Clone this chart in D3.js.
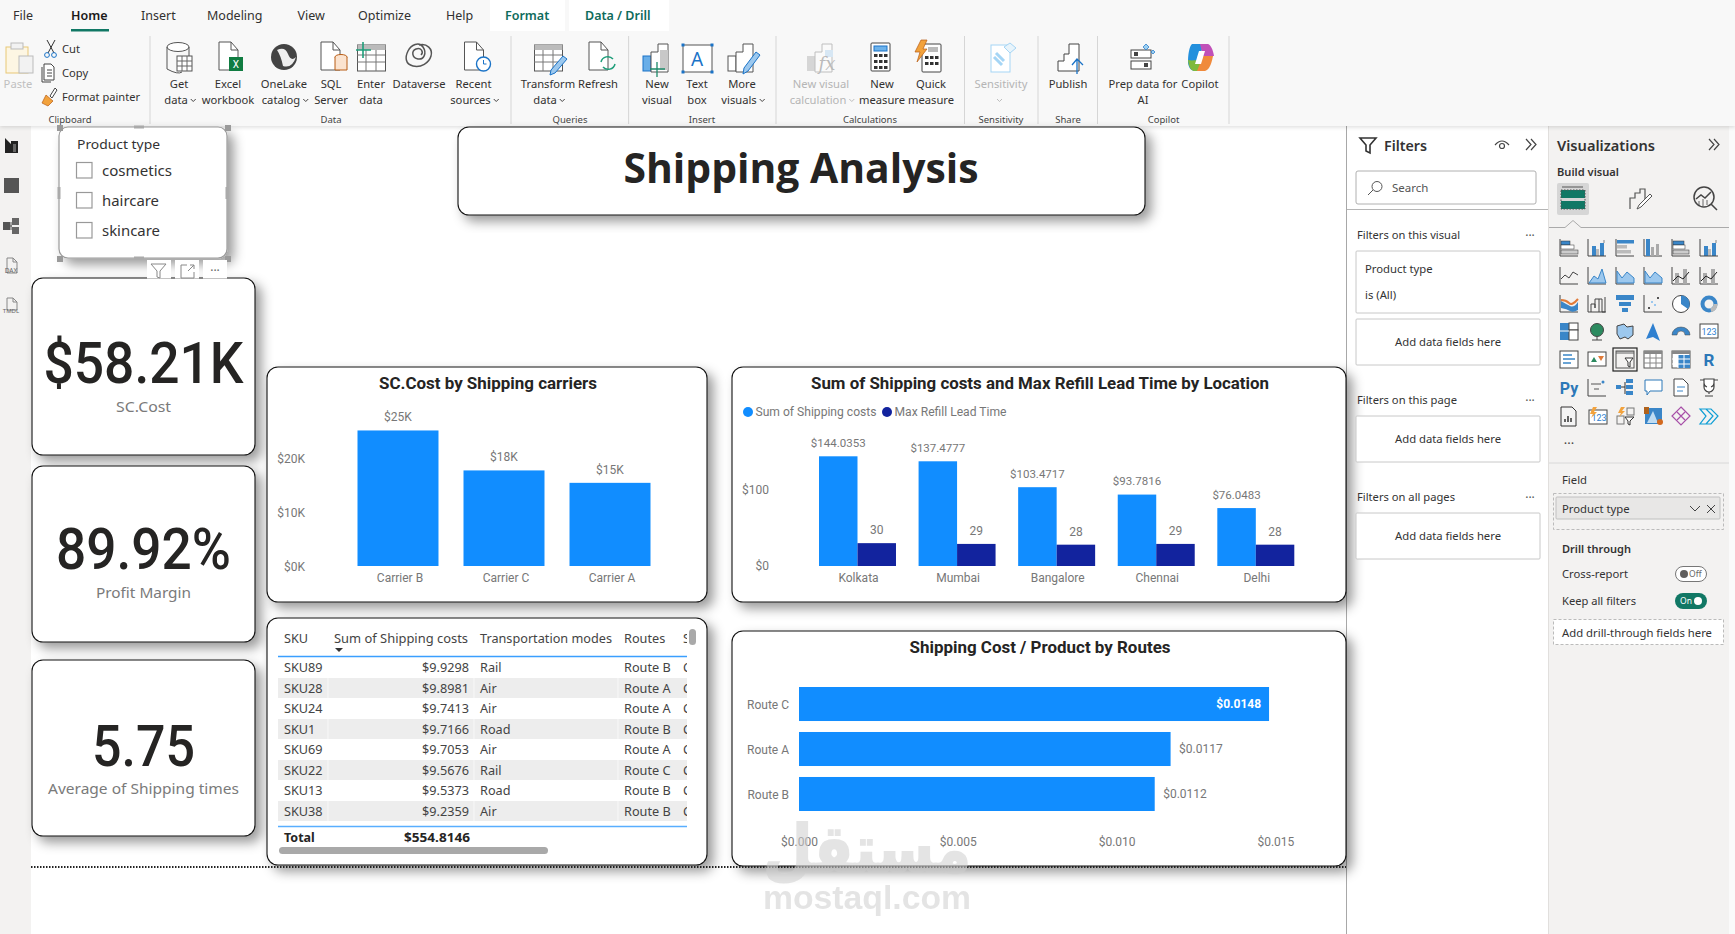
<!DOCTYPE html>
<html><head><meta charset="utf-8">
<script src="https://cdn.jsdelivr.net/npm/d3@7/dist/d3.min.js"></script>
<style>html,body{margin:0;padding:0;background:#fff;overflow:hidden}svg{display:block}</style>
</head><body><div id="c"></div>
<script>
// ---------- data ----------
const carriers = ["Carrier B","Carrier C","Carrier A"];
const carrierCosts = [25.1,17.7,15.4];
const carrierLabels = ["$25K","$18K","$15K"];
const carrierTicks = [0,10,20];
const locations = ["Kolkata","Mumbai","Bangalore","Chennai","Delhi"];
const locShipping = [144.0353,137.4777,103.4717,93.7816,76.0483];
const locLead = [30,29,28,29,28];
const locTicks = [0,100];
const routes = ["Route C","Route A","Route B"];
const routeCosts = [0.0148,0.0117,0.0112];
const routeTicks = [0,0.005,0.010,0.015];
const skus = ["SKU89","SKU28","SKU24","SKU1","SKU69","SKU22","SKU13","SKU38"];
const skuCosts = [9.9298,9.8981,9.7413,9.7166,9.7053,9.5676,9.5373,9.2359];
const skuModes = ["Rail","Air","Air","Road","Air","Rail","Road","Air"];
const skuRoutes = ["Route B","Route A","Route A","Route B","Route A","Route C","Route B","Route B"];
const tableHeaders = ["SKU","Sum of Shipping costs","Transportation modes","Routes","Shipping carriers"];
const tableTotal = 554.8146;
const kpiValues = ["$58.21K","89.92%","5.75"];
const kpiNames = ["SC.Cost","Profit Margin","Average of Shipping times"];
const productTypes = ["cosmetics","haircare","skincare"];
const tabs = ["File","Home","Insert","Modeling","View","Optimize","Help","Format","Data / Drill"];

const BLUE="#118DFF",NAVY="#12239E",INK="#252423",GREY="#777",GREEN="#117865";
const UI="'Noto Sans',sans-serif",DIN="Roboto,sans-serif";

const svg=d3.select("#c").append("svg").attr("width",1735).attr("height",934);
const defs=svg.append("defs");
const sh=defs.append("filter").attr("id","sh").attr("x","-15%").attr("y","-15%").attr("width","135%").attr("height","135%");
sh.append("feDropShadow").attr("dx",6).attr("dy",6).attr("stdDeviation",6).attr("flood-color","#000").attr("flood-opacity",.4);
const rs=defs.append("filter").attr("id","rs").attr("y","-10%").attr("height","130%");
rs.append("feDropShadow").attr("dx",0).attr("dy",1).attr("stdDeviation",2).attr("flood-color","#000").attr("flood-opacity",.15);
defs.append("clipPath").attr("id","tclip").append("rect").attr("x",278).attr("y",625).attr("width",409).attr("height",200);

function T(p,x,y,s,o={}){
  const t=p.append("text").attr("x",x).attr("y",y).attr("dy","0.35em").text(s)
    .attr("font-family",o.font||UI).attr("font-size",o.size||11.5).attr("fill",o.fill||INK)
    .attr("font-weight",o.weight||400).attr("text-anchor",o.anchor||"start");
  if(o.fit) t.attr("textLength",o.fit).attr("lengthAdjust","spacingAndGlyphs");
  return t;
}
function R(p,x,y,w,h,o={}){
  return p.append("rect").attr("x",x).attr("y",y).attr("width",w).attr("height",h)
    .attr("rx",o.rx||0).attr("fill",o.fill||"none").attr("stroke",o.stroke||"none")
    .attr("stroke-width",o.sw||1).attr("stroke-dasharray",o.dash||null).attr("filter",o.filter||null);
}
function icon(p,x,y,html,s=1){p.append("g").attr("transform",`translate(${x},${y}) scale(${s})`).html(html);}

// ---------- page ----------
R(svg,0,0,1735,934,{fill:"#fff"});
R(svg,0,126,31,808,{fill:"#f3f2f1"});
R(svg,1347,126,201,808,{fill:"#fff"});
R(svg,1548,126,181,808,{fill:"#f3f2f1"});
R(svg,1729,126,6,808,{fill:"#fafafa"});
svg.append("line").attr("x1",1346.5).attr("x2",1346.5).attr("y1",126).attr("y2",934).attr("stroke","#a8a8a8");
svg.append("line").attr("x1",1548.5).attr("x2",1548.5).attr("y1",126).attr("y2",934).attr("stroke","#e1dfdd");

// left rail
const rail=svg.append("g");
icon(rail,5,138,`<path d="M0 0 L6 6 L6 3 L13 3 L13 15 L0 15Z" fill="#222"/><path d="M8 6h3v8h-3z" fill="#666"/>`);
R(rail,4,178,15,15,{fill:"#555"});
icon(rail,3,218,`<rect x="0" y="4" width="7" height="8" fill="#555"/><rect x="9" y="0" width="7" height="7" fill="#666"/><rect x="9" y="9" width="7" height="7" fill="#666"/><path d="M7 8h2M8 4v8" stroke="#555"/>`);
icon(rail,4,258,`<path d="M3 0h6l4 4v11H3z" fill="none" stroke="#888"/><path d="M9 0v4h4" fill="none" stroke="#888"/>`);
T(rail,11,271,"DAX",{size:6.5,anchor:"middle",fill:"#666"});
icon(rail,4,298,`<path d="M3 0h6l4 4v8H3z" fill="none" stroke="#888"/><path d="M9 0v4h4" fill="none" stroke="#888"/>`);
T(rail,11,311,"TMDL",{size:6,anchor:"middle",fill:"#666"});

// ---------- ribbon ----------
const rb=svg.append("g");
R(rb,0,0,1735,126,{fill:"#f8f8f8",filter:"url(#rs)"});
R(rb,490,0,75,31,{fill:"#fff"});
R(rb,569,0,100,31,{fill:"#fff"});
const tabX=[13,71,141,207,297.5,358,446,505,585];
tabs.forEach((t,i)=>T(rb,tabX[i],16,t,{size:12.5,weight:(i==1||i>=7)?600:400,fill:i>=7?"#0f6b5c":(i==1?"#1b1a19":"#323130")}));
R(rb,71,29,38,2.5,{fill:GREEN});
[150,511,628.6,776,964.5,1038,1097.5,1229].forEach(x=>rb.append("line").attr("x1",x).attr("x2",x).attr("y1",36).attr("y2",124).attr("stroke","#d6d6d6"));
const groups=[["Clipboard",70],["Data",331],["Queries",570],["Insert",702],["Calculations",870],["Sensitivity",1001],["Share",1068],["Copilot",1163.6]];
groups.forEach(g=>T(rb,g[1],120,g[0],{size:9.5,anchor:"middle",fill:"#444"}));
const doc=`<path d="M1 0h12l7 8v20H1z" fill="#fff" stroke="#555"/><path d="M13 0v8h7" fill="none" stroke="#555"/>`;
const grid=`<rect x="0.5" y="3" width="28" height="26" fill="#fff" stroke="#555"/><rect x="0.5" y="3" width="28" height="5" fill="#bbb"/><path d="M0 13h28M0 20h28M9 8v21M19 8v21" stroke="#777"/>`;
const bars=`<path d="M8 30V10h7V2h10v28z" fill="#fff" stroke="#555"/>`;
const ribbonItems=[
 {l:["Get","data ⌄"],x:179,i:`<ellipse cx="13" cy="5" rx="11" ry="4.5" fill="#fff" stroke="#555"/><path d="M2 5v22q11 6 15 3M24 5v10" fill="none" stroke="#555"/><rect x="12" y="14" width="15" height="15" fill="#fff" stroke="#555"/><path d="M12 19h15M12 24h15M17 14v15M22 14v15" stroke="#666"/>`},
 {l:["Excel","workbook"],x:228,dx:4,i:doc+`<rect x="11" y="15" width="14" height="14" fill="#107c41"/><text x="18" y="26" font-size="10" fill="#fff" text-anchor="middle" font-family="Roboto">X</text>`},
 {l:["OneLake","catalog ⌄"],x:284,i:`<circle cx="14" cy="15" r="13" fill="#444"/><path d="M7 8q8-4 11 4t8 3q-4 12-13 9Q11 14 7 8Z" fill="#eee"/>`},
 {l:["SQL","Server"],x:331,dx:3,i:doc+`<ellipse cx="21" cy="15" rx="6" ry="2.5" fill="#fbe3cf" stroke="#b85c14"/><path d="M15 15v13h12V15" fill="#fbe3cf" stroke="#b85c14"/>`},
 {l:["Enter","data"],x:371,i:grid+`<path d="M-1 8h15M6 0v16" stroke="#1e9e7a" stroke-width="1.6"/>`},
 {l:["Dataverse"],x:419,i:`<path d="M14 3c8-2 14 4 12 11s-10 12-18 10S0 15 3 9s11-10 15-4 1 13-5 12-7-8-2-10 8 3 5 6" fill="none" stroke="#555" stroke-width="1.5"/>`},
 {l:["Recent","sources ⌄"],x:473.5,dx:4,i:doc+`<circle cx="20" cy="22" r="7" fill="#fff" stroke="#1a73c7" stroke-width="1.4"/><path d="M20 18v4h3" stroke="#1a73c7" fill="none"/>`},
 {l:["Transform","data ⌄"],x:548,i:grid+`<path d="M29 14l4 3-12 14-5 2 1-5z" fill="#9cc8ee" stroke="#1a73c7"/>`},
 {l:["Refresh"],x:598,dx:4,i:doc+`<path d="M13 20a7 7 0 0 1 12-3M27 22a7 7 0 0 1-12 3" fill="none" stroke="#1e9e7a" stroke-width="1.5"/>`},
 {l:["New","visual"],x:657,i:`<rect x="0" y="14" width="8" height="15" fill="#69aee8" stroke="#1a73c7"/>`+bars+`<rect x="17" y="8" width="8" height="20" fill="#c8c8c8"/><path d="M14 20v15M7 27h15" stroke="#1e8a6a" stroke-width="1.3"/>`},
 {l:["Text","box"],x:697,i:`<rect x="0" y="3" width="29" height="27" fill="#fff" stroke="#555"/><text x="14" y="24" font-size="19" fill="#1a73c7" text-anchor="middle" font-family="Noto Sans">A</text><g fill="#1a73c7"><rect x="-1.5" y="1.5" width="3" height="3"/><rect x="27.5" y="1.5" width="3" height="3"/><rect x="-1.5" y="28.5" width="3" height="3"/><rect x="27.5" y="28.5" width="3" height="3"/></g>`},
 {l:["More","visuals ⌄"],x:742,i:`<rect x="0" y="14" width="8" height="15" fill="#fff" stroke="#555"/>`+bars+`<path d="M28 10l4 3-12 16-5 3 1-6z" fill="#9cc8ee" stroke="#1a73c7"/>`},
 {l:["New visual","calculation ⌄"],x:821,grey:1,i:`<g opacity=".35"><rect x="0" y="14" width="8" height="15" fill="#999"/>`+bars+`<rect x="18" y="8" width="8" height="7" fill="#9cc8ee"/></g><text x="20" y="28" font-size="18" font-style="italic" font-family="DejaVu Serif" fill="#bbb" text-anchor="middle">fx</text>`},
 {l:["New","measure"],x:882,i:`<rect x="3" y="1" width="19" height="28" rx="1" fill="#fff" stroke="#444"/><rect x="6" y="4" width="13" height="5" fill="#6db2ea" stroke="#1a73c7"/><g fill="#333"><rect x="6" y="12" width="3.5" height="3"/><rect x="11" y="12" width="3.5" height="3"/><rect x="16" y="12" width="3.5" height="3"/><rect x="6" y="18" width="3.5" height="3"/><rect x="11" y="18" width="3.5" height="3"/><rect x="16" y="18" width="3.5" height="3"/><rect x="6" y="24" width="3.5" height="3"/><rect x="11" y="24" width="3.5" height="3"/><rect x="16" y="24" width="3.5" height="3"/></g>`},
 {l:["Quick","measure"],x:931,dx:-2,i:`<rect x="7" y="2" width="19" height="28" rx="1" fill="#fff" stroke="#444"/><rect x="13" y="5" width="10" height="5" fill="#bbb"/><g fill="#333"><rect x="10" y="14" width="3.5" height="3"/><rect x="15" y="14" width="3.5" height="3"/><rect x="20" y="14" width="3.5" height="3"/><rect x="10" y="20" width="3.5" height="3"/><rect x="15" y="20" width="3.5" height="3"/><rect x="20" y="20" width="3.5" height="3"/></g><path d="M6 -2h6L8 7h4L2 20l3-10H0z" fill="#f2a23c" stroke="#b85c14" stroke-width=".7"/>`},
 {l:["Sensitivity","⌄"],x:1001,dx:3,grey:1,i:`<rect x="1" y="3" width="19" height="27" fill="#fff" stroke="#a5d5f5"/><path d="M6 11l8 8M4 15l8 8" stroke="#a5d5f5" stroke-width="3"/><path d="M14 5l6-4 6 5-6 5z" fill="#e8f4fb" stroke="#a5d5f5"/>`},
 {l:["Publish"],x:1068,dx:3,i:`<path d="M1 29V19h6v-7h5V2h10v27z" fill="#fff" stroke="#444"/><path d="M20 32V18M15 23l5-6 6 6" fill="none" stroke="#1a73c7" stroke-width="1.3"/>`},
 {l:["Prep data for","AI"],x:1143,i:`<rect x="2" y="8" width="20" height="8" fill="#fff" stroke="#444"/><rect x="5" y="10" width="4" height="4" fill="#444"/><rect x="2" y="19" width="20" height="8" fill="#fff" stroke="#444"/><rect x="15" y="21" width="4" height="4" fill="#444"/><path d="M17 2l3 3-3 3-3-3zM24 8l2 2-2 2-2-2z" fill="#9cd0f2" stroke="#1a73c7" stroke-width=".7"/>`},
 {l:["Copilot"],x:1200,i:`<path d="M6 2h12c-4 8-4 18-2 27H9c-3 0-6-2-7-8 0-8 1-16 4-19Z" fill="#2390dd"/><path d="M2 18c3 1 9 0 13 0l1 11H9c-3 0-6-2-7-11Z" fill="#7fba3c"/><path d="M14 2h8c3 1 5 6 6 12H17Z" fill="#c050b8"/><path d="M11 29h8c3-1 6-4 8-15H17Z" fill="#f08a3c"/><path d="M13 9h6l-4 13H9z" fill="#fff"/>`},
];
ribbonItems.forEach(d=>{
  icon(rb,d.x-14+(d.dx||0),42,d.i);
  const f=d.grey?"#b5b5b5":"#323130";
  d.l.forEach((s,i)=>{
    const y=84+i*16, has=s.includes("⌄"), txt=s.replace("⌄","").trim();
    let end=d.x-4;
    if(txt){
      const t=T(rb,has?d.x-3:d.x,y,txt,{size:11.2,anchor:"middle",fill:f});
      if(has) end=d.x-3+t.node().getComputedTextLength()/2+3;
    }
    if(has) rb.append("path").attr("d",`M${end} ${y-1}l2.5 2.5 2.5-2.5`).attr("fill","none").attr("stroke",f).attr("stroke-width",.9);
  });
});
// paste / clipboard
icon(rb,6,43,`<rect x="0" y="4" width="22" height="26" fill="#fdf6e3" stroke="#e8c777"/><rect x="13" y="13" width="14" height="17" fill="#f2f2f2" stroke="#bbb"/><rect x="5" y="0" width="12" height="6" fill="#f2f2f2" stroke="#bbb"/>`);
T(rb,18,84,"Paste",{anchor:"middle",size:11.2,fill:"#c0c0c0"});
T(rb,62,49,"Cut",{size:11.2,fill:"#323130"});
T(rb,62,73,"Copy",{size:11.2,fill:"#323130"});
T(rb,62,97,"Format painter",{size:11.2,fill:"#323130",fit:78});
icon(rb,44,40,`<path d="M3 0l7 13M11 0L4 13" stroke="#333" fill="none"/><circle cx="3" cy="15" r="2.4" fill="none" stroke="#1a73c7"/><circle cx="10" cy="15" r="2.4" fill="none" stroke="#1a73c7"/>`);
icon(rb,42,64,`<path d="M2 0h7l3 3v13H2z" fill="#fff" stroke="#444"/><path d="M5 6h5M5 9h5M5 12h5M0 3v15h9" fill="none" stroke="#444"/>`);
icon(rb,42,88,`<path d="M4 7l7 6-5 5-6-3z" fill="#f2a23c" stroke="#b85c14" stroke-width=".7"/><path d="M8 8l5-8 2 2-5 8z" fill="#fff" stroke="#444"/>`);

// ---------- canvas cards ----------
const card=(x,y,w,h)=>R(svg,x,y,w,h,{rx:11,fill:"#fff",stroke:"#111",sw:1.1,filter:"url(#sh)"});
// title
card(458,127,687,88);
T(svg,801,168,"Shipping Analysis",{font:"'Open Sans',sans-serif",size:42,weight:700,anchor:"middle",fit:355,fill:INK});

// slicer
R(svg,59,127,168,131,{rx:9,fill:"#fff",stroke:"#9a9a9a",sw:1.2,filter:"url(#sh)"});
T(svg,77,145,"Product type",{size:12.5,fit:83,fill:"#333"});
const slicerFit=[70,57,58];
productTypes.forEach((p,i)=>{
  R(svg,76.5,162.5+i*30,15.5,15.5,{fill:"#fff",stroke:"#999",sw:1.2});
  T(svg,102,171+i*30,p,{size:14,fill:"#333",fit:slicerFit[i]});
});
[[59,127],[227,127],[59,258],[227,258]].forEach(([x,y])=>R(svg,x-2,y-2,6,6,{fill:"#9a9a9a"}));
[[134,127],[134,258]].forEach(([x,y])=>R(svg,x,y-1.5,10,3,{fill:"#aaa"}));
[[59,193],[227,193]].forEach(([x,y])=>R(svg,x-1.5,y-6,3,12,{fill:"#aaa"}));

// KPI cards
const kpiBox=[[278,177],[466,176],[660,176]],kpiBase=[383,569,766],kpiName=[407,593,789],kpiFit=[200,175,103],kpiNF=[55,95,191];
kpiValues.forEach((v,i)=>{
  card(32,kpiBox[i][0],223,kpiBox[i][1]);
  svg.append("text").attr("x",143.5).attr("y",kpiBase[i]).text(v).attr("font-family",DIN).attr("font-size",57).attr("font-weight",500)
    .attr("fill",INK).attr("text-anchor","middle").attr("textLength",kpiFit[i]).attr("lengthAdjust","spacingAndGlyphs");
  T(svg,143.5,kpiName[i],kpiNames[i],{font:UI,size:15,fill:"#7a7a7a",anchor:"middle",fit:kpiNF[i]});
});
// slicer header icons (on top of card)
[147,175,203].forEach(x=>R(svg,x,260,24,18.5,{fill:"#fff"}));
icon(svg,151,264,`<path d="M0 0h15l-6 7v7l-3-1V7z" fill="none" stroke="#888"/>`);
icon(svg,180,264,`<path d="M7 1H1v13h13V8M8 7l6-6M10 1h4v4" fill="none" stroke="#888"/>`);
T(svg,215,271,"···",{size:12,anchor:"middle",fill:"#666"});

const ax=g=>{g.select(".domain").remove();g.selectAll("line").remove();
  g.selectAll("text").attr("font-family",DIN).attr("font-size",12).attr("fill",GREY);};

// chart 1
card(267,367,440,235);
T(svg,488,383,"SC.Cost by Shipping carriers",{font:DIN,size:16,weight:700,anchor:"middle",fit:218});
const x1=d3.scaleBand().domain(carriers).range([357.5,650.5]).paddingInner(.236).paddingOuter(0);
const y1=d3.scaleLinear().domain([0,25]).range([566,431]);
svg.append("g").selectAll("rect").data(carriers).join("rect")
  .attr("x",d=>x1(d)).attr("width",x1.bandwidth()).attr("y",(d,i)=>y1(carrierCosts[i])).attr("height",(d,i)=>y1(0)-y1(carrierCosts[i])).attr("fill",BLUE);
svg.append("g").attr("transform","translate(305,1)").call(d3.axisLeft(y1).tickValues(carrierTicks).tickSize(0).tickPadding(0).tickFormat(d=>"$"+d+"K")).call(ax);
svg.append("g").attr("transform","translate(2,566)").call(d3.axisBottom(x1).tickSize(0).tickPadding(7)).call(ax);
carriers.forEach((c,i)=>T(svg,x1(c)+x1.bandwidth()/2,y1(carrierCosts[i])-13.5,carrierLabels[i],{font:DIN,size:12,fill:GREY,anchor:"middle"}));

// chart 2
card(732,367,614,235);
T(svg,1040,383,"Sum of Shipping costs and Max Refill Lead Time by Location",{font:DIN,size:16,weight:700,anchor:"middle",fit:458});
svg.append("circle").attr("cx",748).attr("cy",412).attr("r",5).attr("fill",BLUE);
T(svg,755.5,412,"Sum of Shipping costs",{font:DIN,size:12,fill:GREY,fit:121});
svg.append("circle").attr("cx",887).attr("cy",412).attr("r",5).attr("fill",NAVY);
T(svg,894.5,412,"Max Refill Lead Time",{font:DIN,size:12,fill:GREY,fit:112});
const x2=d3.scaleBand().domain(locations).range([819,1294.3]).paddingInner(.2269).paddingOuter(0);
const x2b=d3.scaleBand().domain(["ship","lead"]).range([0,x2.bandwidth()]);
const y2=d3.scaleLinear().domain([0,144.0353]).range([566,456.3]);
const g2=svg.append("g");
g2.selectAll(".s").data(locations).join("rect").attr("x",d=>x2(d)+x2b("ship")).attr("width",x2b.bandwidth())
  .attr("y",(d,i)=>y2(locShipping[i])).attr("height",(d,i)=>y2(0)-y2(locShipping[i])).attr("fill",BLUE);
g2.selectAll(".l").data(locations).join("rect").attr("x",d=>x2(d)+x2b("lead")).attr("width",x2b.bandwidth())
  .attr("y",(d,i)=>y2(locLead[i])).attr("height",(d,i)=>y2(0)-y2(locLead[i])).attr("fill",NAVY);
svg.append("g").attr("transform","translate(769,0)").call(d3.axisLeft(y2).tickValues(locTicks).tickSize(0).tickPadding(0).tickFormat(d=>"$"+d)).call(ax);
svg.append("g").attr("transform","translate(1,566)").call(d3.axisBottom(x2).tickSize(0).tickPadding(7)).call(ax);
locations.forEach((c,i)=>{
  T(svg,x2(c)+x2b("ship")+x2b.bandwidth()/2,y2(locShipping[i])-13.5,"$"+locShipping[i].toFixed(4),{font:DIN,size:11.5,fill:GREY,anchor:"middle"});
  T(svg,x2(c)+x2b("lead")+x2b.bandwidth()/2,y2(locLead[i])-13,String(locLead[i]),{font:DIN,size:12,fill:GREY,anchor:"middle"});
});

// table
card(267,618,440,247);
const tb=svg.append("g").attr("clip-path","url(#tclip)");
const rowY=d3.scaleBand().domain(skus).range([657.5,821.5]);
const colSku=284,colCostR=469,colMode=480,colRoute=624,colCar=683;
const TS=12.7;
skus.forEach((s,i)=>{
  const cy=rowY(s)+rowY.bandwidth()/2;
  if(i%2==1){R(tb,278,rowY(s),409,rowY.bandwidth()-.5,{fill:"#ededed"});
    [328,474,618].forEach(x=>tb.append("line").attr("x1",x).attr("x2",x).attr("y1",rowY(s)).attr("y2",rowY(s)+rowY.bandwidth()-.5).attr("stroke","#f8f8f8"));}
  T(tb,colSku,cy,s,{size:TS,fill:"#444"});
  T(tb,colCostR,cy,"$"+skuCosts[i].toFixed(4),{size:TS,fill:"#444",anchor:"end"});
  T(tb,colMode,cy,skuModes[i],{size:TS,fill:"#444"});
  T(tb,colRoute,cy,skuRoutes[i],{size:TS,fill:"#444"});
  T(tb,colCar,cy,"Carrier",{size:TS,fill:"#444"});
});
const hX=[colSku,334,colMode,colRoute,colCar],hFit=[null,134,132,null,null];
tableHeaders.forEach((h,i)=>T(tb,hX[i],639,h,{size:TS,fill:"#444",fit:hFit[i]}));
svg.append("path").attr("d","M335 648h8l-4 4z").attr("fill","#333");
svg.append("line").attr("x1",278).attr("x2",687).attr("y1",656.5).attr("y2",656.5).attr("stroke","#3a9fff").attr("stroke-width",1.3);
svg.append("line").attr("x1",278).attr("x2",687).attr("y1",826.5).attr("y2",826.5).attr("stroke","#59aeff").attr("stroke-width",1.3);
T(svg,284,837.5,"Total",{size:12.5,weight:700});
T(svg,470,837.5,"$"+tableTotal.toFixed(4),{size:12.5,weight:700,anchor:"end",fit:66});
R(svg,279,847,269,7,{rx:3.5,fill:"#a9a9a9"});
R(svg,689,629,7,16,{rx:3.5,fill:"#a9a9a9"});

// chart 4
card(732,631,614,235);
T(svg,1040,647,"Shipping Cost / Product by Routes",{font:DIN,size:16,weight:700,anchor:"middle",fit:261});
const x4=d3.scaleLinear().domain([0,0.015]).range([799,1275.4]);
const y4=d3.scaleBand().domain(routes).range([687,811]).paddingInner(.244).paddingOuter(0);
svg.append("g").selectAll("rect").data(routes).join("rect").attr("x",x4(0)).attr("y",d=>y4(d)).attr("height",y4.bandwidth())
  .attr("width",(d,i)=>x4(routeCosts[i])-x4(0)).attr("fill",BLUE);
svg.append("g").attr("transform","translate(789,1)").call(d3.axisLeft(y4).tickSize(0).tickPadding(0)).call(ax);
svg.append("g").attr("transform","translate(0,837)").call(d3.axisBottom(x4).tickValues(routeTicks).tickSize(0).tickPadding(0).tickFormat(d=>"$"+d.toFixed(3))).call(ax);
routes.forEach((r,i)=>{
  const lab="$"+routeCosts[i].toFixed(4),cy=y4(r)+y4.bandwidth()/2-.5;
  if(i==0) T(svg,x4(routeCosts[i])-8,cy,lab,{font:DIN,size:12,fill:"#fff",weight:700,anchor:"end"});
  else T(svg,x4(routeCosts[i])+8.5,cy,lab,{font:DIN,size:12,fill:GREY});
});

// page boundary
svg.append("line").attr("x1",31).attr("x2",1346).attr("y1",867).attr("y2",867).attr("stroke","#222").attr("stroke-width",2).attr("stroke-dasharray","1.5 1.5");

// watermark
const wm=svg.append("g").attr("opacity",.55);
wm.append("text").attr("x",867).attr("y",872).text("مستقل").attr("font-family","'DejaVu Sans',sans-serif").attr("font-weight",700).attr("font-size",66)
  .attr("fill","#cfcfcf").attr("stroke","#cfcfcf").attr("stroke-width",2).attr("text-anchor","middle").attr("textLength",208).attr("lengthAdjust","spacingAndGlyphs");
T(wm,867,897,"mostaql.com",{font:"'Liberation Sans',sans-serif",size:34,weight:700,fill:"#cfcfcf",anchor:"middle",fit:208});

// ---------- filters pane ----------
const fp=svg.append("g");
icon(fp,1360,138,`<path d="M0 0h16l-6 7v8l-4-2V7z" fill="none" stroke="#333" stroke-width="1.6"/>`);
T(fp,1384,145.5,"Filters",{size:14.5,weight:600,fill:"#333",fit:43});
icon(fp,1495,138,`<path d="M0 7q7-8 14 0" fill="none" stroke="#444" stroke-width="1.2"/><circle cx="7" cy="8" r="2.5" fill="none" stroke="#444" stroke-width="1.2"/>`);
const chev=(p,x,y)=>icon(p,x,y,`<path d="M0 0l5 5.5-5 5.5M5 0l5 5.5-5 5.5" fill="none" stroke="#444" stroke-width="1.2"/>`);
chev(fp,1526,139);
R(fp,1356,171,180,33,{rx:2,fill:"#fff",stroke:"#b0b0b0"});
icon(fp,1367,181,`<circle cx="10" cy="5.5" r="5" fill="none" stroke="#555"/><path d="M6 9l-5 5" stroke="#555"/>`);
T(fp,1392,188,"Search",{size:11.5,fill:"#555"});
fp.append("line").attr("x1",1347).attr("x2",1548).attr("y1",209.5).attr("y2",209.5).attr("stroke","#b5b5b5");
T(fp,1357,235,"Filters on this visual",{size:11.3,fit:103,fill:"#333"});
T(fp,1357,400,"Filters on this page",{size:11.3,fit:100,fill:"#333"});
T(fp,1357,497,"Filters on all pages",{size:11.3,fit:98,fill:"#333"});
[235,400,497].forEach(y=>T(fp,1530,y+1,"···",{size:12,anchor:"middle",fill:"#555"}));
R(fp,1356,251,184,62,{rx:1,fill:"#fff",stroke:"#c8c8c8"});
T(fp,1365,269,"Product type",{size:11.3,fill:"#333"});
T(fp,1365,295,"is (All)",{size:11.3,fill:"#333"});
[[319,46],[416,46],[513,46]].forEach(([y,h])=>{R(fp,1356,y,184,h,{rx:1,fill:"#fff",stroke:"#c8c8c8"});
  T(fp,1448,y+h/2+.5,"Add data fields here",{size:11.3,anchor:"middle",fit:106,fill:"#333"});});

// ---------- visualizations pane ----------
const vp=svg.append("g");
T(vp,1557,145.5,"Visualizations",{size:14.5,weight:600,fit:98,fill:"#333"});
chev(vp,1709,139);
T(vp,1557,172,"Build visual",{size:11.3,weight:600,fit:62,fill:"#333"});
R(vp,1557,183,32,32,{rx:2,fill:"#d6d6d6"});
icon(vp,1561,186,`<path d="M1 1h21" stroke="#555"/><rect x="0" y="4" width="24" height="8" fill="${GREEN}"/><rect x="0" y="15" width="24" height="8" fill="${GREEN}"/><path d="M0 4h24v19H0z" fill="none" stroke="#555" stroke-dasharray="1.5 1.5"/>`);
icon(vp,1629,188,`<path d="M1 21V10h5V5h5V1h5v14" fill="none" stroke="#555" stroke-width="1.2"/><path d="M21 6l2 2-11 11-4 2 2-4z" fill="#fff" stroke="#555"/>`);
icon(vp,1693,186,`<circle cx="11" cy="11" r="10" fill="none" stroke="#444" stroke-width="1.5"/><path d="M3 13l5-4 4 3 6-6M18 18l6 6" fill="none" stroke="#444" stroke-width="1.5"/><path d="M6 15v4M10 13v7M14 14v5" stroke="#666"/>`);
vp.append("path").attr("d","M1549 227.5h16l8-7 8 7h148").attr("fill","none").attr("stroke","#aaa");
const C="#3a86c8",L="#9cc8ee",S="#666",D="#9a9a9a";
const axL=`<path d="M0 0v17h18" fill="none" stroke="#444"/>`;
const hb=(a,b)=>axL+`<rect x="1" y="2" width="${a}" height="4" fill="${C}" stroke="#333" stroke-width=".5"/><rect x="1" y="6" width="${b}" height="4" fill="#fff" stroke="#333" stroke-width=".5"/><rect x="1" y="11" width="${b+4}" height="4" fill="#ccc" stroke="#333" stroke-width=".5"/>`;
const vb=`<g fill="${C}"><rect x="4" y="7" width="4" height="10"/><rect x="12" y="4" width="4" height="13"/></g><g fill="#bbb"><rect x="8" y="10" width="3" height="7"/><rect x="15" y="1" width="2" height="3"/></g>`+axL;
const ln=axL+`<path d="M1 12l4-4 4 3 4-6 5 3" fill="none" stroke="#444"/>`;
const ar=axL+`<path d="M1 16l5-7 4 3 4-10 4 14z" fill="${L}" stroke="${C}"/>`;
const ar2=axL+`<path d="M1 4l5 7 5-6 7 6v5H1z" fill="${L}" stroke="${C}"/>`;
const col=axL+`<rect x="3" y="6" width="4" height="11" fill="#aaa"/><rect x="11" y="2" width="4" height="15" fill="#aaa"/><path d="M1 14l5-5 5 3 6-7" fill="none" stroke="#222"/>`;
const glyph=[
 hb(9,13),vb,axL+`<rect x="1" y="1" width="17" height="3.5" fill="${C}"/><rect x="1" y="6" width="10" height="3.5" fill="#bbb"/><rect x="1" y="11" width="14" height="3.5" fill="#bbb"/>`,axL+`<rect x="2" y="0" width="4" height="17" fill="${C}"/><rect x="7" y="8" width="3" height="9" fill="#aaa"/><rect x="12" y="5" width="3" height="12" fill="#aaa"/>`,hb(11,12),vb,
 ln,ar,ar2,ar2,col,col,
 axL+`<path d="M1 6q5 3 9 5t8-4v8q-5 3-8 1t-9-3z" fill="${C}"/><path d="M1 5q5 0 8 3t9-4" fill="none" stroke="#e07b39" stroke-width="2"/>`,axL+`<path d="M3 17V9h4v4M7 13V4h4v13M11 4h3v13h3V2" fill="none" stroke="#444"/>`,`<path d="M0 0h18v5H0zM3 7h12v4H3zM6 13h6v4H6z" fill="${C}"/>`,axL+`<g fill="#555"><rect x="4" y="12" width="2" height="2"/><rect x="13" y="2" width="2" height="2"/></g><g fill="${L}"><rect x="7" y="6" width="2" height="2"/><rect x="10" y="9" width="2" height="2"/></g>`,`<circle cx="9" cy="9" r="8.5" fill="#fff" stroke="#444"/><path d="M9 9V.5A8.500 8.500 0 0 1 16 14Z" fill="${C}"/>`,`<circle cx="9" cy="9" r="6.500" fill="none" stroke="${C}" stroke-width="4"/><circle cx="9" cy="9" r="6.500" fill="none" stroke="#bbb" stroke-width="4" stroke-dasharray="8 40"/>`,
 `<rect x="0" y="0" width="9" height="17" fill="${C}"/><rect x="9" y="0" width="9" height="7" fill="#fff" stroke="#444"/><rect x="9" y="7" width="9" height="10" fill="#fff" stroke="#444"/><path d="M0 8h9" stroke="#fff"/>`,`<circle cx="9" cy="7" r="6.500" fill="#2c8a5f" stroke="#444"/><path d="M9 14v3M4 17h10" stroke="#444"/>`,`<path d="M1 3l7-2 3 3 6-1v9l-5 4-3-2-5 2-3-5z" fill="${L}" stroke="#444"/>`,`<path d="M9 0l7 18-7-4-7 2z" fill="#2f80d0"/>`,`<path d="M0 12a9 8 0 0 1 18 0h-5a4 4 0 0 0-8 0z" fill="${C}" stroke="#444" stroke-width=".5"/>`,`<rect x="0" y="1" width="18" height="14" fill="#fff" stroke="#444"/><text x="9" y="12" font-size="9" fill="#2f80d0" text-anchor="middle" font-family="Roboto">123</text>`,
 `<rect x="0" y="0" width="18" height="17" fill="#fff" stroke="#444"/><path d="M3 4h9M3 8h12M3 12h8" stroke="${C}" stroke-width="1.5"/>`,`<rect x="0" y="1" width="18" height="14" fill="#fff" stroke="#444"/><path d="M3 11l3-5 3 5z" fill="#2c8a5f"/><path d="M10 5h6l-3 5z" fill="#e07b39"/>`,`<rect x="-3" y="-3" width="24" height="23" fill="none" stroke="#222" stroke-width="1.2"/><rect x="0" y="0" width="18" height="3" fill="#aaa"/><rect x="0" y="0" width="18" height="17" fill="none" stroke="#555"/><path d="M9 7h8l-3 4v5l-2-1v-4z" fill="#fff" stroke="#333"/>`,`<rect x="0" y="0" width="18" height="17" fill="#fff" stroke="#555"/><rect x="0" y="0" width="18" height="3" fill="#888"/><path d="M0 7h18M0 12h18M6 3v14M12 3v14" stroke="#888"/>`,`<rect x="0" y="0" width="18" height="17" fill="#fff" stroke="#555"/><rect x="0" y="0" width="18" height="3" fill="#888"/><rect x="6" y="4" width="12" height="13" fill="${C}"/><path d="M0 8h18M0 13h18M6 3v14M12 3v14" stroke="#fff"/>`,`<text x="9" y="15" font-size="17" font-weight="700" fill="#2c78b8" text-anchor="middle" font-family="Roboto">R</text>`,
 `<text x="9" y="15" font-size="16" font-weight="700" fill="#2c78b8" text-anchor="middle" font-family="Roboto">Py</text>`,axL+`<path d="M3 5h10M6 10h5" stroke="#555"/><circle cx="15" cy="3" r="1.500" fill="${C}"/>`,`<path d="M1 8h4M5 8h4M9 3v12" stroke="#333"/><rect x="0" y="6" width="5" height="4" fill="${C}"/><rect x="10" y="0" width="7" height="4" fill="${C}"/><rect x="10" y="6" width="7" height="4" fill="${C}"/><rect x="10" y="12" width="7" height="4" fill="${C}"/>`,`<path d="M1 1h17v11H6l-3 4v-4H1z" fill="#fff" stroke="#2c78b8"/>`,`<path d="M2 0h9l5 5v12H2z" fill="#fff" stroke="#444"/><path d="M5 8h8M5 12h6" stroke="${C}"/>`,`<path d="M4 0h10v8a5 5 0 0 1-10 0zM0 1h4v3q0 3 3 4M18 1h-4v3q0 3-3 4M9 13v2M5 17h8" fill="#fff" stroke="#444" stroke-width="1.2"/>`,
 `<path d="M1 0h11l4 4v15H1z" fill="#f4f4f4" stroke="#333"/><path d="M5 15v-3M8 15V9M11 15v-4" stroke="#333" stroke-width="1.500"/>`,`<rect x="1" y="3" width="18" height="14" fill="#fff" stroke="#444"/><text x="11" y="14" font-size="9" fill="#2f80d0" text-anchor="middle" font-family="Roboto">123</text><path d="M5 0h4L6 5h3L3 11l2-4H2z" fill="#f2a23c"/>`,`<rect x="1" y="9" width="7" height="8" fill="none" stroke="#777"/><rect x="11" y="1" width="7" height="7" fill="none" stroke="#777"/><path d="M9 10h9l-4 4v4l-2-1v-3z" fill="#fff" stroke="#333"/><path d="M5 0h4L6 4h3L3 10l2-4H2z" fill="#f2a23c"/>`,`<rect x="1" y="1" width="17" height="16" fill="${C}"/><path d="M3 16l6-12 5 12z" fill="#bfdcf2"/><rect x="0" y="0" width="5" height="7" fill="#b0621c"/><circle cx="16" cy="15" r="3" fill="#d2691e"/>`,`<path d="M9 0l9 9-9 9-9-9z" fill="none" stroke="#a74fa8" stroke-width="1.200"/><path d="M5 5l8 8M13 5l-8 8" stroke="#a74fa8" stroke-width="1.200"/>`,`<path d="M0 2h11l7 7-7 8H0l6-8zM6 2l7 7-7 8" fill="none" stroke="#0f9ed5" stroke-width="1.200"/>`
];
const galX=d3.scalePoint().domain(d3.range(6)).range([1569,1709]);
glyph.forEach((g,i)=>{icon(vp,galX(i%6)-9,248+Math.floor(i/6)*28-9,g);});
T(vp,1569,443,"···",{size:13,anchor:"middle",fill:"#444"});
vp.append("line").attr("x1",1549).attr("x2",1729).attr("y1",463).attr("y2",463).attr("stroke","#d8d8d8");
T(vp,1562,480,"Field",{size:11.3,fill:"#333"});
R(vp,1553.5,493.5,170,36,{stroke:"#bbb",dash:"3 2"});
R(vp,1556,497,164,22,{rx:1,fill:"#e8e7e6",stroke:"#c0c0c0"});
T(vp,1562,509,"Product type",{size:11.3,fill:"#333"});
vp.append("path").attr("d","M1690 506l5 5 5-5M1707 505l8 8M1715 505l-8 8").attr("fill","none").attr("stroke","#444");
T(vp,1562,549,"Drill through",{size:11.3,weight:600,fit:69,fill:"#333"});
T(vp,1562,574,"Cross-report",{size:11.3,fit:66,fill:"#333"});
T(vp,1562,601,"Keep all filters",{size:11.3,fit:74,fill:"#333"});
R(vp,1675.5,566.5,31,15,{rx:7.5,fill:"#fff",stroke:"#777"});
vp.append("circle").attr("cx",1684).attr("cy",574).attr("r",4).attr("fill","#605e5c");
T(vp,1689,574,"Off",{size:8.5,fill:"#666"});
R(vp,1675,593,32,16,{rx:8,fill:GREEN});
T(vp,1680,601,"On",{size:8.5,fill:"#fff"});
vp.append("circle").attr("cx",1698).attr("cy",601).attr("r",4).attr("fill","#fff");
R(vp,1553.5,619.5,170,25,{fill:"#fff",stroke:"#bbb",dash:"3 2"});
T(vp,1562,633,"Add drill-through fields here",{size:11.3,fit:150,fill:"#333"});
</script></body></html>
